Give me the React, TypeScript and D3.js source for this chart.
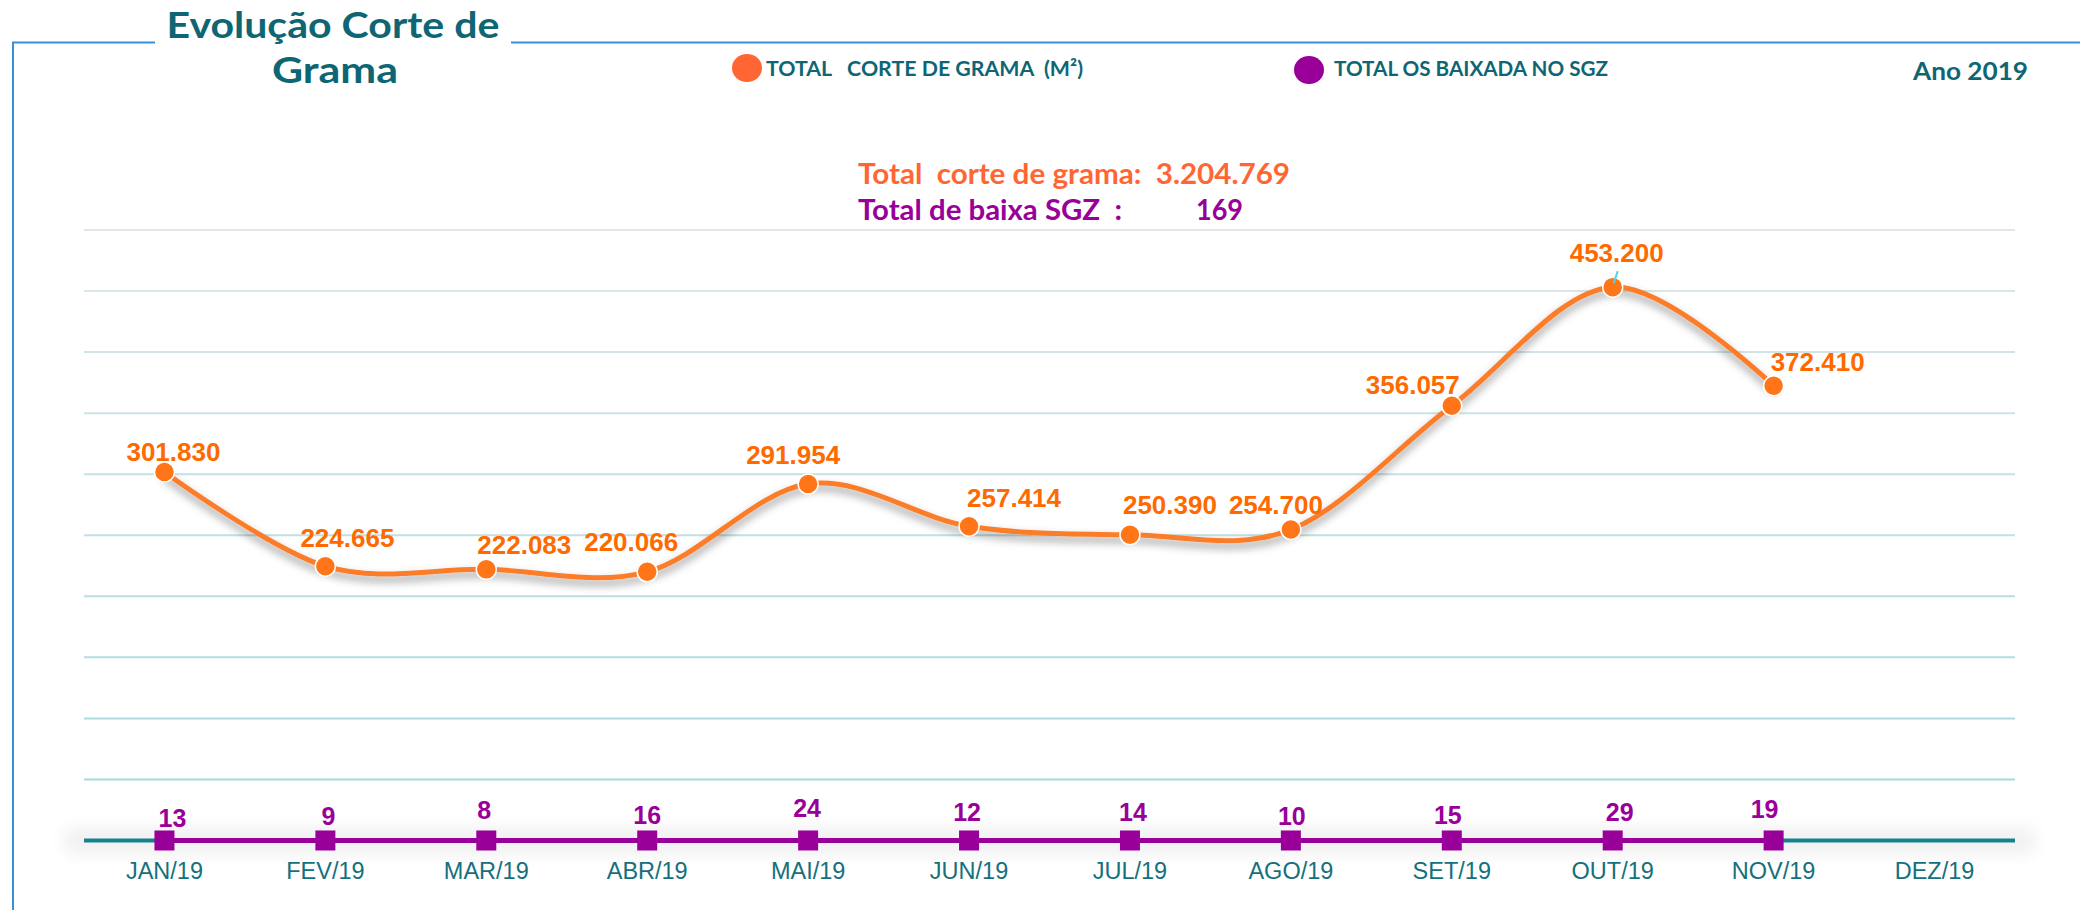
import React from 'react';
import * as d3 from 'd3';

// ---------- data ----------
const months = ['JAN/19', 'FEV/19', 'MAR/19', 'ABR/19', 'MAI/19', 'JUN/19', 'JUL/19', 'AGO/19', 'SET/19', 'OUT/19', 'NOV/19', 'DEZ/19'];
const corteGrama = [301830, 224665, 222083, 220066, 291954, 257414, 250390, 254700, 356057, 453200, 372410];
const baixaSGZ = [13, 9, 8, 16, 24, 12, 14, 10, 15, 29, 19];
const yTicks = [50000, 100000, 150000, 200000, 250000, 300000, 350000, 400000, 450000, 500000];

// label nudges (layout only)
const corteLabelDx = [9, 22, 38, -16, -15, 45, 40, -15, -39, 4, 44];
const corteLabelDy = [-11, -19, -15, -21, -20, -19, -21, -16, -12, -25, -15];
const baixaLabelDx = [8, 3, -2, 0, -1, -2, 3, 1, -4, 7, -9];
const baixaLabelY = [827, 825, 819, 824, 817, 821, 821, 825, 824, 821, 818];

const TEAL = '#0e6674';
const ORANGE_TXT = '#ff6a00';
const ORANGE_LINE = '#fb7d2b';
const ORANGE_DOT = '#ff7518';
const ORANGE_LEG = '#ff6633';
const PURPLE = '#990099';

const fmt = (v: number) => d3.format(',')(v).replace(/,/g, '.');

export default function App() {
  const W = 2080, H = 910;
  const x = d3.scalePoint<string>().domain(months).range([84, 2015]).padding(0.5);
  const y = d3.scaleLinear().domain([0, 500000]).range([840.5, 230]);
  const gridColor = d3.scaleLinear<string>().domain([50000, 500000]).range(['#a6dae0', '#e0e7e9']);

  const pts: [number, number][] = corteGrama.map((v, i) => [x(months[i]) as number, y(v)]);
  const line = d3.line().curve(d3.curveCatmullRom.alpha(0))(pts) as string;

  const totalCorte = d3.sum(corteGrama);
  const totalBaixa = d3.sum(baixaSGZ);
  const baseY = y(0);
  const firstX = x(months[0]) as number;
  const lastX = x(months[baixaSGZ.length - 1]) as number;

  return (
    <svg width={W} height={H} style={{ position: 'absolute', left: 0, top: 0, background: '#fff' }}>
      <defs>
        <filter id="shadow" x="-10%" y="-30%" width="120%" height="160%">
          <feDropShadow dx="0" dy="5" stdDeviation="4.5" floodColor="#000" floodOpacity="0.42" />
        </filter>
        <filter id="glow" x="-5%" y="-100%" width="110%" height="300%">
          <feGaussianBlur stdDeviation="8" />
        </filter>
      </defs>
      <rect width={W} height={H} fill="#fff" />

      {/* frame */}
      <path d="M13,910 L13,42.5 L155,42.5 M511,42.5 L2080,42.5" fill="none" stroke="#3a8fd8" strokeWidth={2} />

      {/* title */}
      <text x={333} y={38} textAnchor="middle" fill={TEAL} fontFamily="Lato, 'Open Sans', sans-serif" fontWeight={700} fontSize={37} textLength={333} lengthAdjust="spacingAndGlyphs">Evolução Corte de</text>
      <text x={335} y={83} textAnchor="middle" fill={TEAL} fontFamily="Lato, 'Open Sans', sans-serif" fontWeight={700} fontSize={37} textLength={126} lengthAdjust="spacingAndGlyphs">Grama</text>

      {/* legend */}
      <ellipse cx={747} cy={68} rx={15} ry={14} fill={ORANGE_LEG} />
      <text x={766} y={76} fill={TEAL} fontFamily="Lato, sans-serif" fontWeight={700} fontSize={21.5} textLength={317} lengthAdjust="spacingAndGlyphs" style={{ whiteSpace: 'pre' }}>{'TOTAL   CORTE DE GRAMA  (M²)'}</text>
      <ellipse cx={1309} cy={70} rx={15} ry={14} fill={PURPLE} />
      <text x={1334} y={76} fill={TEAL} fontFamily="Lato, sans-serif" fontWeight={700} fontSize={21.5} textLength={274} lengthAdjust="spacingAndGlyphs">TOTAL OS BAIXADA NO SGZ</text>
      <text x={1913} y={80} fill={TEAL} fontFamily="Lato, sans-serif" fontWeight={700} fontSize={25} textLength={115} lengthAdjust="spacingAndGlyphs">Ano 2019</text>

      {/* totals */}
      <text x={858} y={184} fill={ORANGE_LEG} fontFamily="Lato, sans-serif" fontWeight={700} fontSize={28} textLength={432} lengthAdjust="spacingAndGlyphs" style={{ whiteSpace: 'pre' }}>{`Total  corte de grama:  ${fmt(totalCorte)}`}</text>
      <text x={858} y={220} fill={PURPLE} fontFamily="Lato, sans-serif" fontWeight={700} fontSize={28} textLength={264} lengthAdjust="spacingAndGlyphs" style={{ whiteSpace: 'pre' }}>{'Total de baixa SGZ  :'}</text>
      <text x={1196} y={220} fill={PURPLE} fontFamily="Lato, sans-serif" fontWeight={700} fontSize={28} textLength={47} lengthAdjust="spacingAndGlyphs">{fmt(totalBaixa)}</text>

      {/* gridlines */}
      {yTicks.map(t => (
        <line key={t} x1={84} x2={2015} y1={y(t)} y2={y(t)} stroke={gridColor(t)} strokeWidth={2} />
      ))}

      {/* baseline glow */}
      <rect x={62} y={826} width={1975} height={30} rx={15} fill="#000" opacity={0.05} filter="url(#glow)" />
      {/* baseline axis */}
      <line x1={84} x2={2015} y1={baseY} y2={baseY} stroke="#168190" strokeWidth={4} />

      {/* purple series */}
      <line x1={firstX} x2={lastX} y1={baseY} y2={baseY} stroke={PURPLE} strokeWidth={5} />
      {baixaSGZ.map((v, i) => {
        const cx = x(months[i]) as number;
        return <rect key={i} x={cx - 10} y={y(v) - 10} width={20} height={20} fill={PURPLE} />;
      })}
      {baixaSGZ.map((v, i) => (
        <text key={i} x={(x(months[i]) as number) + baixaLabelDx[i]} y={baixaLabelY[i]} textAnchor="middle" fill={PURPLE} fontFamily="'Liberation Sans', Arial, sans-serif" fontWeight={700} fontSize={25}>{v}</text>
      ))}

      {/* orange series */}
      <path d={line} fill="none" stroke={ORANGE_LINE} strokeWidth={5} strokeLinecap="round" filter="url(#shadow)" />
      {pts.map(([px, py], i) => (
        <circle key={i} cx={px} cy={py} r={10} fill={ORANGE_DOT} stroke="#fff" strokeWidth={1.5} />
      ))}
      {/* leader line for peak */}
      {(() => {
        const i = corteGrama.indexOf(d3.max(corteGrama) as number);
        const [px, py] = pts[i];
        return <line x1={px + 5} y1={py - 16} x2={px + 1} y2={py - 4} stroke="#55d2ea" strokeWidth={2} />;
      })()}
      {corteGrama.map((v, i) => (
        <text key={i} x={pts[i][0] + corteLabelDx[i]} y={pts[i][1] + corteLabelDy[i]} textAnchor="middle" fill={ORANGE_TXT} fontFamily="'Liberation Sans', Arial, sans-serif" fontWeight={700} fontSize={26}>{fmt(v)}</text>
      ))}

      {/* x axis labels */}
      {months.map(m => (
        <text key={m} x={x(m) as number} y={879} textAnchor="middle" fill="#15707c" fontFamily="'Liberation Sans', Arial, sans-serif" fontSize={23.5}>{m}</text>
      ))}
    </svg>
  );
}
